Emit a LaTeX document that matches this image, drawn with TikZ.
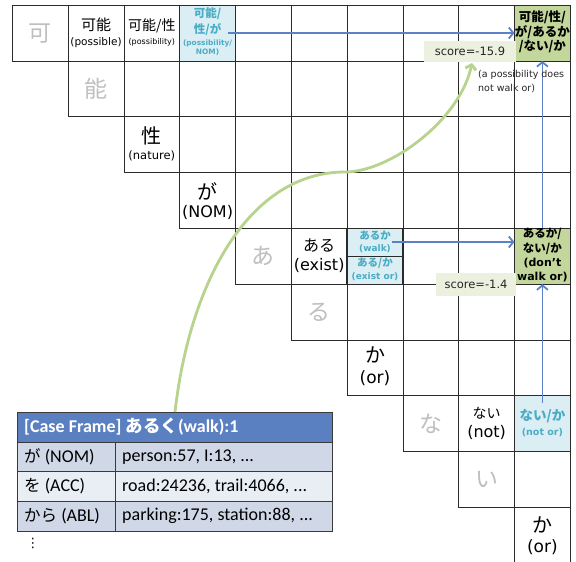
\documentclass[tikz,border=0pt]{standalone}
\usepackage{fontspec}
\setmainfont{DejaVu Sans}
\newfontfamily\jp{Noto Sans CJK JP}
\newfontfamily\calfont{Carlito}
\usetikzlibrary{arrows.meta}
\definecolor{aqua}{HTML}{4BACC6}
\definecolor{aqualt}{HTML}{DAEEF3}
\definecolor{olivelt}{HTML}{C3D69B}
\definecolor{olivevlt}{HTML}{EBF1DE}
\definecolor{curvegreen}{HTML}{B8D38E}
\definecolor{arrblue}{HTML}{5B82C8}
\definecolor{hdrblue}{HTML}{5B80C2}
\definecolor{rowA}{HTML}{D0D8E8}
\definecolor{rowB}{HTML}{E9EDF4}
\definecolor{grayc}{HTML}{BFBFBF}
\definecolor{gridc}{HTML}{2B2B2B}
\definecolor{tblc}{HTML}{3A3A3A}
\definecolor{txtc}{HTML}{262626}
\newcommand{\fs}[2]{\fontsize{#1}{#2}\selectfont}
\newcommand{\J}[2]{{\jp\fontsize{#1}{#1}\selectfont #2}}
\newcommand{\JB}[2]{{\jp\bfseries\fontsize{#1}{#1}\selectfont #2}}
\newcommand{\Lt}[2]{{\fontsize{#1}{#1}\selectfont #2}}
\newcommand{\Ltb}[2]{{\bfseries\fontsize{#1}{#1}\selectfont #2}}
\newcommand{\Cf}[2]{{\calfont\fontsize{#1}{#1}\selectfont #2}}
\begin{document}
\begin{tikzpicture}[x=1pt,y=-1pt,
  cellbox/.style={draw=gridc,line width=0.8pt,minimum width=55.8pt,minimum height=55.8pt,inner sep=0pt,outer sep=0pt,anchor=north west},
  fillbox/.style={cellbox,draw=none},
  txt/.style={inner sep=0pt,text=black},
  graych/.style={inner sep=0pt,text=grayc},
  blu/.style={inner sep=0pt,text=aqua},
  barrow/.style={draw=arrblue,line width=1.8pt,-{Straight Barb[length=4.5pt,width=11pt]}},
  gcurve/.style={draw=curvegreen,line width=2.8pt,-{Straight Barb[length=4.5pt,width=11pt]}},
  scorebox/.style={fill=olivevlt,inner sep=0pt,text=txtc,font=\fs{11.5}{13}},
  tcell/.style={draw=tblc,line width=0.8pt,anchor=north west,inner sep=0pt,outer sep=0pt,minimum height=29.7pt},
  tt/.style={anchor=west,inner sep=0pt,text=black}
]
\useasboundingbox (0,0) rectangle (576,562);
\fill[white] (0,0) rectangle (576,562);
% fills of special cells
\node[fillbox,fill=aqualt] (f03) at (179.7,5.2) {};
\node[fillbox,fill=olivelt] (f09) at (514.5,5.2) {};
\node[fillbox,fill=aqualt] (f46) at (347.1,228.4) {};
\node[fillbox,fill=olivelt] (f49) at (514.5,228.4) {};
\node[fillbox,fill=aqualt] (f79) at (514.5,395.8) {};
% grid
\foreach \rr in {0,...,9}{\foreach \cc in {\rr,...,9}{
  \node[cellbox] (c\rr\cc) at ({12.3+55.8*\cc},{5.2+55.8*\rr}) {};}}
\draw[draw=gridc,line width=1.4pt] (c46.north west) rectangle (c46.south east);
\draw[draw=gridc,line width=1.2pt] (c46.west) -- (c46.east);
% row 0
\node[graych] (t00) at (40.2,33.1) {\J{23}{可}};
\node[txt] (t01a) at (96,24.5) {\J{15}{可能}};
\node[txt] (t01b) at (96,43) {\Lt{10.5}{(possible)}};
\node[txt] (t02a) at (151.8,26) {\J{14}{可能/性}};
\node[txt] (t02b) at (151.8,42.5) {\Lt{8}{(possibility)}};
\node[blu] (t03a) at (207.6,13.5) {\JB{11.5}{可能/}};
\node[blu] (t03b) at (207.6,30) {\JB{11.5}{性/が}};
\node[blu] (t03c) at (207.6,43.5) {\Ltb{7.4}{(possibility/}};
\node[blu] (t03d) at (207.6,52.5) {\Ltb{7.4}{NOM)}};
\node[txt] (t09a) at (542.4,17.5) {\JB{12.5}{可能/性/}};
\node[txt] (t09b) at (542.4,32) {\JB{12.5}{が/あるか}};
\node[txt] (t09c) at (542.4,46.5) {\JB{12.5}{/ない/か}};
% diagonal
\node[graych] (t11) at (96,88.9) {\J{23}{能}};
\node[txt] (t22a) at (151.8,135.5) {\J{20}{性}};
\node[txt] (t22b) at (151.8,155.5) {\Lt{11.5}{(nature)}};
\node[txt] (t33a) at (207.6,191) {\J{20}{が}};
\node[txt] (t33b) at (207.6,212) {\Lt{16}{(NOM)}};
\node[graych] (t44) at (263.4,256.3) {\J{23}{あ}};
\node[txt] (t45a) at (319.2,245.5) {\J{16}{ある}};
\node[txt] (t45b) at (319.2,265.5) {\Lt{16}{(exist)}};
\node[blu] (t46a) at (375,235.5) {\JB{10.5}{あるか}};
\node[blu] (t46b) at (375,248.5) {\Ltb{9}{(walk)}};
\node[blu] (t46c) at (375,263.5) {\JB{10.5}{ある/か}};
\node[blu] (t46d) at (375,277) {\Ltb{9}{(exist or)}};
\node[txt] (t49a) at (542.4,234) {\JB{11.5}{あるか/}};
\node[txt] (t49b) at (542.4,248.5) {\JB{11.5}{ない/か}};
\node[txt] (t49c) at (542.4,263.5) {\Ltb{11}{(don’t}};
\node[txt] (t49d) at (542.4,277.5) {\Ltb{11}{walk or)}};
\node[graych] (t55) at (319.2,312.1) {\J{23}{る}};
\node[txt] (t66a) at (375,355) {\J{20}{か}};
\node[txt] (t66b) at (375,378.5) {\Lt{17}{(or)}};
\node[graych] (t77) at (430.8,423.7) {\J{23}{な}};
\node[txt] (t78a) at (486.6,413) {\J{14}{ない}};
\node[txt] (t78b) at (486.6,432) {\Lt{16}{(not)}};
\node[blu] (t79a) at (542.4,416) {\JB{13.5}{ない/か}};
\node[blu] (t79b) at (542.4,432.5) {\Ltb{9.5}{(not or)}};
\node[graych] (t88) at (486.6,479.5) {\J{23}{い}};
\node[txt] (t99a) at (542.4,525) {\J{20}{か}};
\node[txt] (t99b) at (542.4,547) {\Lt{17}{(or)}};
% table
\node[tcell,fill=hdrblue,minimum width=315pt,minimum height=30pt] (th) at (17,412) {};
\node[tcell,fill=rowA,minimum width=98pt] (k1) at (17,442) {};
\node[tcell,fill=rowA,minimum width=217pt] (v1) at (115,442) {};
\node[tcell,fill=rowB,minimum width=98pt] (k2) at (17,471.7) {};
\node[tcell,fill=rowB,minimum width=217pt] (v2) at (115,471.7) {};
\node[tcell,fill=rowA,minimum width=98pt] (k3) at (17,501.4) {};
\node[tcell,fill=rowA,minimum width=217pt] (v3) at (115,501.4) {};
\node[tt,text=white] (hd) at (24,427) {\Cf{18}{\bfseries [Case Frame] }\JB{17.5}{あるく}\Cf{18}{\bfseries (walk):1}};
\node[tt] (k1t) at (24,456.8) {\J{16.5}{が}\Cf{18}{\ (NOM)}};
\node[tt] (v1t) at (122,456.8) {\Cf{18}{person:57, I:13, ...}};
\node[tt] (k2t) at (24,486.5) {\J{16.5}{を}\Cf{18}{\ (ACC)}};
\node[tt] (v2t) at (122,486.5) {\Cf{18}{road:24236, trail:4066, ...}};
\node[tt] (k3t) at (24,516.2) {\J{16.5}{から}\Cf{18}{\ (ABL)}};
\node[tt] (v3t) at (122,516.2) {\Cf{18}{parking:175, station:88, ...}};
\node[inner sep=0pt] (dots) at (33,543) {\fs{13}{13}⋮};
% green curve
\coordinate (cs) at (175,412);
\coordinate (ce) at (472,63);
\draw[gcurve] (cs) .. controls (190,280) and (250,172) .. (345,172) .. controls (390,172) and (460,120) .. (ce);
% blue arrows
\coordinate (a1s) at (228,33);
\draw[barrow] (a1s) -- (a1s -| c09.west);
\coordinate (a2s) at (392,242);
\draw[barrow] (a2s) -- (a2s -| c49.west);
\coordinate (a3s) at ([yshift=-7pt]c79.north);
\draw[barrow] (a3s) -- (c49.south);
\draw[barrow] (c49.north) -- (c09.south);
% score boxes and note
\node[scorebox,minimum width=92pt,minimum height=21pt] (s1) at (470,51.5) {score=-15.9};
\node[scorebox,minimum width=80pt,minimum height=23pt] (s2) at (476,284.5) {score=-1.4};
\node[anchor=north west,align=left,inner sep=0pt,text=txtc,font=\fs{9.5}{14}] (n1) at (478,70) {(a possibility does\\not walk or)};
\end{tikzpicture}
\end{document}
